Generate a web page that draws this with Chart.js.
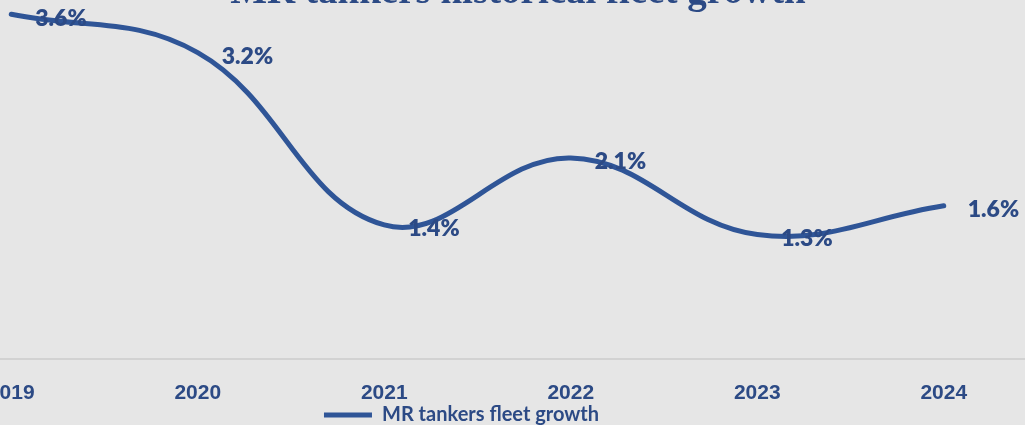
<!DOCTYPE html>
<html>
<head>
<meta charset="utf-8">
<script src="https://cdn.jsdelivr.net/npm/chart.js@4/dist/chart.umd.min.js"></script>
<style>
  html, body { margin: 0; padding: 0; background: #e6e6e6; overflow: hidden; }
  body { width: 1025px; height: 425px; position: relative; }
  #wrap { position: absolute; left: -140px; top: -60px; width: 1206px; height: 495px; }
</style>
</head>
<body>
<div id="wrap"><canvas id="fleetChart"></canvas></div>
<script>
const years = ['2019', '2020', '2021', '2022', '2023', '2024'];
const fleetGrowth = [3.6, 3.2, 1.4, 2.1, 1.3, 1.6];
const seriesName = 'MR tankers fleet growth';
const chartTitle = 'MR tankers historical fleet growth';

const navy = '#2f5597';
const textNavy = '#2c4a85';

// title sits over the plot, drawn by hand
const titlePlugin = {
    id: 'topTitle',
    afterDraw(chart) {
        const ctx = chart.ctx;
        ctx.save();
        ctx.font = 'bold 39px "Liberation Serif", serif';
        ctx.fillStyle = textNavy;
        ctx.textAlign = 'center';
        ctx.textBaseline = 'alphabetic';
        ctx.fillText(chartTitle, 658, 63);
        ctx.restore();
    }
};

// value labels to the right of each point
const valueLabels = {
    id: 'valueLabels',
    afterDatasetsDraw(chart) {
        const ctx = chart.ctx;
        const meta = chart.getDatasetMeta(0);
        ctx.save();
        ctx.font = '800 23px Lato, sans-serif';
        ctx.fillStyle = textNavy;
        ctx.textAlign = 'left';
        ctx.textBaseline = 'middle';
        meta.data.forEach((pt, i) => {
            ctx.fillText(fleetGrowth[i].toFixed(1) + '%', pt.x + 24, pt.y + 4);
        });
        ctx.restore();
    }
};

// nudge the legend a bit left of the plot centre
const legendShift = {
    id: 'legendShift',
    afterLayout(chart) {
        chart.legend.left -= 16;
        chart.legend.right -= 16;
    }
};

const ctx = document.getElementById('fleetChart').getContext('2d');
const fleetChart = new Chart(ctx, {
    type: 'line',
    data: {
        labels: years,
        datasets: [{
            label: seriesName,
            data: fleetGrowth,
            borderColor: navy,
            backgroundColor: navy,
            borderWidth: 5,
            borderCapStyle: 'round',
            tension: 0.4,
            pointRadius: 0,
            clip: false
        }]
    },
    options: {
        responsive: true,
        maintainAspectRatio: false,
        animation: false,
        layout: {
            padding: { top: 36, left: 58, right: 29, bottom: 0 }
        },
        scales: {
            x: {
                offset: true,
                grid: { display: true, drawOnChartArea: false, drawTicks: false },
                border: { display: true, color: '#d2d2d2', width: 2 },
                ticks: {
                    padding: 22,
                    color: textNavy,
                    font: { family: '"Liberation Sans", Arial, sans-serif', size: 21, weight: 'bold' }
                },
                afterFit(scale) {
                    scale.height = 45;
                }
            },
            y: {
                display: false,
                min: 0,
                max: 4
            }
        },
        plugins: {
            title: { display: false },
            tooltip: { enabled: false },
            legend: {
                position: 'bottom',
                labels: {
                    usePointStyle: true,
                    pointStyle: 'line',
                    pointStyleWidth: 48,
                    padding: 1,
                    color: textNavy,
                    font: { family: 'Lato, sans-serif', size: 20, weight: 'bold' }
                }
            }
        }
    },
    plugins: [valueLabels, titlePlugin, legendShift]
});
</script>
</body>
</html>
